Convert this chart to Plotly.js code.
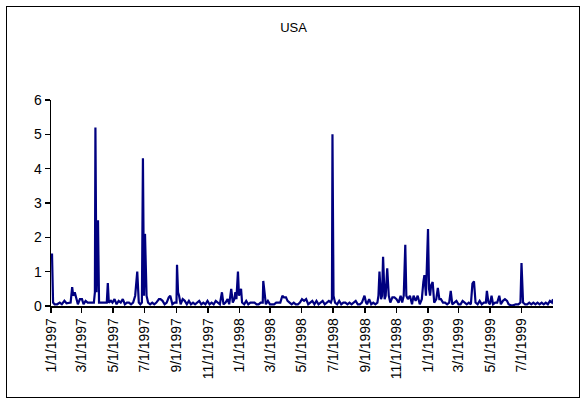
<!DOCTYPE html>
<html>
<head>
<meta charset="utf-8">
<script src="https://cdn.plot.ly/plotly-3.0.1.min.js"></script>
<style>
  html, body { margin: 0; padding: 0; background: #fff; }
  #wrap { position: relative; width: 587px; height: 405px; }
  #chart { position: absolute; left: 0; top: 0; width: 587px; height: 405px; }
  #frame { position: absolute; left: 6px; top: 6px; width: 572px; height: 390px; border: 1.5px solid #000; pointer-events: none; }
</style>
</head>
<body>
<div id="wrap"><div id="chart"></div><div id="frame"></div></div>
<script>
const chartTitle = "USA";

const dates = [
  "1997-01-01","1997-01-03","1997-01-05","1997-01-08","1997-01-13","1997-01-18","1997-01-22","1997-01-27","1997-01-31",
  "1997-02-04","1997-02-08","1997-02-11","1997-02-13","1997-02-16","1997-02-19","1997-02-22","1997-02-26",
  "1997-03-02","1997-03-05","1997-03-09","1997-03-13","1997-03-17","1997-03-21","1997-03-25","1997-03-27","1997-03-28","1997-03-30",
  "1997-04-02","1997-04-04","1997-04-08","1997-04-12","1997-04-16","1997-04-19","1997-04-21","1997-04-23","1997-04-27","1997-04-30",
  "1997-05-04","1997-05-08","1997-05-12","1997-05-16","1997-05-20","1997-05-24","1997-05-28",
  "1997-06-01","1997-06-05","1997-06-09","1997-06-13","1997-06-17","1997-06-20","1997-06-23","1997-06-26","1997-06-28","1997-06-30",
  "1997-07-02","1997-07-05","1997-07-08","1997-07-12","1997-07-16","1997-07-20","1997-07-24","1997-07-29",
  "1997-08-01","1997-08-05","1997-08-09","1997-08-13","1997-08-17","1997-08-20","1997-08-24","1997-08-28",
  "1997-09-01","1997-09-02","1997-09-04","1997-09-06","1997-09-09","1997-09-13","1997-09-17","1997-09-21","1997-09-25","1997-09-29",
  "1997-10-03","1997-10-07","1997-10-11","1997-10-15","1997-10-19","1997-10-23","1997-10-27","1997-10-31",
  "1997-11-04","1997-11-08","1997-11-12","1997-11-16","1997-11-20","1997-11-24","1997-11-28",
  "1997-12-01","1997-12-05","1997-12-09","1997-12-12","1997-12-16","1997-12-19","1997-12-22","1997-12-24","1997-12-26","1997-12-29","1997-12-31",
  "1998-01-02","1998-01-04","1998-01-06","1998-01-10","1998-01-14","1998-01-18","1998-01-22","1998-01-26","1998-01-30",
  "1998-02-03","1998-02-07","1998-02-11","1998-02-15","1998-02-16","1998-02-19","1998-02-21","1998-02-25",
  "1998-03-01","1998-03-05","1998-03-09","1998-03-13","1998-03-17","1998-03-21","1998-03-25","1998-03-28",
  "1998-04-01","1998-04-04","1998-04-08","1998-04-12","1998-04-16","1998-04-20","1998-04-24","1998-04-28",
  "1998-05-02","1998-05-06","1998-05-10","1998-05-14","1998-05-18","1998-05-22","1998-05-26","1998-05-30",
  "1998-06-03","1998-06-07","1998-06-11","1998-06-15","1998-06-19","1998-06-23","1998-06-27","1998-06-29","1998-06-30",
  "1998-07-02","1998-07-05","1998-07-09","1998-07-13","1998-07-17","1998-07-21","1998-07-25","1998-07-29",
  "1998-08-02","1998-08-06","1998-08-10","1998-08-14","1998-08-18","1998-08-22","1998-08-26","1998-08-31",
  "1998-09-03","1998-09-05","1998-09-09","1998-09-13","1998-09-17","1998-09-21","1998-09-25","1998-09-27","1998-09-29",
  "1998-10-02","1998-10-04","1998-10-06","1998-10-09","1998-10-11","1998-10-14","1998-10-17","1998-10-20","1998-10-24","1998-10-28",
  "1998-11-01","1998-11-05","1998-11-09","1998-11-12","1998-11-15","1998-11-18","1998-11-20","1998-11-23","1998-11-27",
  "1998-12-01","1998-12-04","1998-12-08","1998-12-12","1998-12-16","1998-12-20","1998-12-23","1998-12-25","1998-12-28",
  "1999-01-01","1999-01-03","1999-01-05","1999-01-07","1999-01-10","1999-01-13","1999-01-17","1999-01-20","1999-01-23","1999-01-26","1999-01-30",
  "1999-02-03","1999-02-07","1999-02-11","1999-02-14","1999-02-17","1999-02-21","1999-02-25",
  "1999-03-01","1999-03-05","1999-03-09","1999-03-13","1999-03-17","1999-03-21","1999-03-25","1999-03-28","1999-03-31",
  "1999-04-03","1999-04-07","1999-04-11","1999-04-15","1999-04-19","1999-04-23","1999-04-25","1999-04-28",
  "1999-05-01","1999-05-04","1999-05-07","1999-05-11","1999-05-15","1999-05-19","1999-05-22","1999-05-26","1999-05-30",
  "1999-06-03","1999-06-06","1999-06-10","1999-06-15","1999-06-20","1999-06-25","1999-06-29",
  "1999-07-01","1999-07-04","1999-07-08","1999-07-12","1999-07-16","1999-07-20","1999-07-24","1999-07-28",
  "1999-08-01","1999-08-05","1999-08-09","1999-08-13","1999-08-17","1999-08-21","1999-08-25","1999-08-29","1999-08-31"
];

const values = [
  1.5,1.5,0.1,0.05,0.05,0.1,0.05,0.15,0.08,
  0.1,0.1,0.55,0.3,0.4,0.2,0.05,0.2,
  0.2,0.05,0.15,0.1,0.1,0.1,0.1,0.4,5.2,0.4,
  2.5,0.1,0.1,0.1,0.1,0.1,0.67,0.1,0.15,0.1,
  0.2,0.05,0.15,0.1,0.2,0.05,0.1,
  0.1,0.05,0.1,0.3,1.0,0.1,0.05,0.1,4.3,0.3,
  2.1,0.3,0.1,0.05,0.1,0.05,0.1,0.2,
  0.2,0.15,0.05,0.1,0.25,0.3,0.05,0.1,
  0.1,1.2,0.4,0.3,0.05,0.2,0.15,0.05,0.15,0.05,
  0.1,0.05,0.1,0.15,0.05,0.1,0.05,0.15,
  0.05,0.1,0.05,0.15,0.1,0.05,0.4,
  0.05,0.1,0.2,0.05,0.5,0.1,0.2,0.4,0.2,1.0,0.3,
  0.4,0.5,0.1,0.05,0.15,0.05,0.1,0.1,0.1,
  0.05,0.05,0.1,0.1,0.73,0.4,0.05,0.15,
  0.05,0.05,0.05,0.1,0.1,0.1,0.3,0.25,
  0.25,0.15,0.1,0.05,0.1,0.05,0.05,0.1,
  0.2,0.15,0.2,0.05,0.1,0.15,0.05,0.15,
  0.05,0.1,0.15,0.05,0.1,0.15,0.1,0.2,5.0,
  0.3,0.1,0.05,0.15,0.05,0.1,0.1,0.05,
  0.1,0.05,0.1,0.15,0.05,0.05,0.1,0.3,
  0.1,0.05,0.2,0.05,0.1,0.05,0.1,0.3,1.0,
  0.2,0.3,1.43,0.2,0.3,1.1,0.3,0.1,0.25,0.25,
  0.2,0.1,0.3,0.1,0.3,1.78,0.3,0.2,0.3,
  0.05,0.3,0.15,0.3,0.05,0.2,0.7,0.9,0.3,
  2.24,0.5,0.3,0.6,0.7,0.1,0.2,0.53,0.2,0.2,0.1,
  0.1,0.05,0.1,0.44,0.05,0.1,0.15,
  0.05,0.05,0.15,0.1,0.05,0.1,0.05,0.65,0.72,
  0.1,0.05,0.15,0.05,0.1,0.1,0.44,0.1,
  0.05,0.3,0.05,0.1,0.1,0.3,0.05,0.15,0.2,
  0.15,0.05,0.02,0.02,0.05,0.05,0.1,
  1.25,0.1,0.05,0.05,0.1,0.05,0.1,0.05,
  0.1,0.05,0.1,0.05,0.1,0.05,0.15,0.1,0.2
];

const yTicks = [0, 1, 2, 3, 4, 5, 6];
const xRange = ["1997-01-01", "1999-08-31"];

const font = "Liberation Sans, Arial, sans-serif";

const trace = {
  type: "scatter",
  mode: "lines",
  x: dates,
  y: values,
  line: { color: "#000080", width: 2.2 },
  hoverinfo: "skip"
};

const layout = {
  width: 587,
  height: 405,
  margin: { l: 51, r: 34, t: 100, b: 99 },
  paper_bgcolor: "#ffffff",
  plot_bgcolor: "#ffffff",
  showlegend: false,
  title: {
    text: chartTitle,
    font: { family: font, size: 13, color: "#000" },
    x: 0.5, xref: "container", xanchor: "center",
    y: 1 - 27 / 405, yref: "container", yanchor: "middle"
  },
  xaxis: {
    type: "date",
    range: xRange,
    tick0: "1997-01-01",
    dtick: "M2",
    tickformat: "%-m/%-d/%Y",
    tickangle: -90,
    ticks: "outside",
    ticklen: 5,
    tickwidth: 1.5,
    tickcolor: "#000",
    showline: true,
    linecolor: "#000",
    linewidth: 1.5,
    showgrid: false,
    zeroline: false,
    tickfont: { family: font, size: 14, color: "#000" }
  },
  yaxis: {
    range: [0, 6],
    tickvals: yTicks,
    ticks: "outside",
    ticklen: 5,
    tickwidth: 1.5,
    tickcolor: "#000",
    showline: true,
    linecolor: "#000",
    linewidth: 1.5,
    showgrid: false,
    zeroline: false,
    tickfont: { family: font, size: 14, color: "#000" }
  }
};

Plotly.newPlot("chart", [trace], layout, { staticPlot: true, displayModeBar: false });
</script>
</body>
</html>
